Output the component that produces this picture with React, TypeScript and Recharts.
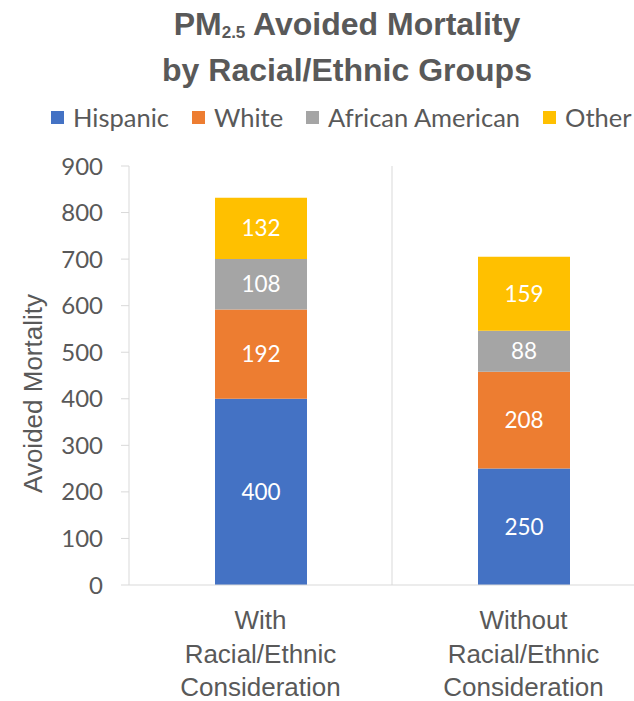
import React from 'react'
import { BarChart, Bar, XAxis, YAxis, CartesianGrid, LabelList, Label } from 'recharts'

const categories = ['With\nRacial/Ethnic\nConsideration', 'Without\nRacial/Ethnic\nConsideration']
const hispanic = [400, 250]
const white = [192, 208]
const africanAmerican = [108, 88]
const other = [132, 159]
const yTicks = [0, 100, 200, 300, 400, 500, 600, 700, 800, 900]

const series = [
  { key: 'hispanic', name: 'Hispanic', color: '#4472C4', values: hispanic },
  { key: 'white', name: 'White', color: '#ED7D31', values: white },
  { key: 'africanAmerican', name: 'African American', color: '#A5A5A5', values: africanAmerican },
  { key: 'other', name: 'Other', color: '#FFC000', values: other },
]

const data = categories.map((category, i) => {
  const row: { [key: string]: string | number } = { category }
  series.forEach(s => {
    row[s.key] = s.values[i]
  })
  return row
})

const textGray = '#595959'
const lineGray = '#D9D9D9'
const calibriLike = 'Lato, "Open Sans", sans-serif'
const arialLike = '"Liberation Sans", Arial, sans-serif'

function CategoryTick({ x, y, payload }: any) {
  const lines = String(payload.value).split('\n')
  return (
    <text x={x} y={y} textAnchor="middle" fill={textGray} fontFamily={arialLike} fontSize={26}>
      {lines.map((line, i) => (
        <tspan key={i} x={x} y={y + 44 + i * 33.5}>
          {line}
        </tspan>
      ))}
    </text>
  )
}

function AxisTitle({ viewBox }: any) {
  const cx = 33
  const cy = viewBox.y + viewBox.height / 2 + 18
  return (
    <text
      x={cx}
      y={cy}
      transform={`rotate(-90, ${cx}, ${cy})`}
      textAnchor="middle"
      dominantBaseline="central"
      fill={textGray}
      fontFamily={arialLike}
      fontSize={26}
    >
      Avoided Mortality
    </text>
  )
}

export default function App() {
  return (
    <div style={{ position: 'absolute', left: 0, top: 0, width: 634, height: 701, overflow: 'hidden', background: '#fff' }}>
      <div
        style={{
          position: 'absolute',
          left: 0,
          top: 4,
          width: 694,
          textAlign: 'center',
          fontFamily: arialLike,
          fontWeight: 'bold',
          fontSize: 32,
          lineHeight: '41px',
          color: textGray,
        }}
      >
        <div>
          PM<span style={{ fontSize: 17, position: 'relative', top: 3 }}>2.5</span> Avoided Mortality
        </div>
        <div>by Racial/Ethnic Groups</div>
      </div>

      <div
        style={{
          position: 'absolute',
          left: 51,
          top: 102,
          height: 30,
          display: 'flex',
          alignItems: 'center',
          fontFamily: calibriLike,
          fontSize: 25.5,
          color: textGray,
          whiteSpace: 'nowrap',
        }}
      >
        {series.map(s => (
          <div key={s.key} style={{ display: 'flex', alignItems: 'center', marginRight: 23 }}>
            <span style={{ width: 13, height: 13, background: s.color, marginRight: 9, display: 'inline-block' }} />
            <span>{s.name}</span>
          </div>
        ))}
      </div>

      <div style={{ position: 'absolute', left: 0, top: 0 }}>
        <BarChart width={660} height={701} data={data} margin={{ top: 166, right: 5, bottom: 0, left: 0 }}>
          <CartesianGrid
            horizontal={false}
            stroke={lineGray}
            verticalCoordinatesGenerator={({ offset }: any) => [offset.left + offset.width / 2]}
          />
          <XAxis
            dataKey="category"
            axisLine={{ stroke: lineGray }}
            tickLine={false}
            tickSize={0}
            tickMargin={0}
            tick={<CategoryTick />}
            interval={0}
            height={116}
          />
          <YAxis
            width={129}
            domain={[0, 900]}
            ticks={yTicks}
            axisLine={{ stroke: lineGray }}
            tickLine={{ stroke: lineGray }}
            tickSize={8}
            tickMargin={18}
            tick={{ fill: textGray, fontFamily: calibriLike, fontSize: 24 }}
          >
            <Label content={<AxisTitle />} />
          </YAxis>
          {series.map(s => (
            <Bar key={s.key} dataKey={s.key} name={s.name} stackId="a" fill={s.color} barSize={92} isAnimationActive={false}>
              <LabelList dataKey={s.key} position="center" fill="#FFFFFF" fontFamily={calibriLike} fontSize={22.5} />
            </Bar>
          ))}
        </BarChart>
      </div>
    </div>
  )
}
